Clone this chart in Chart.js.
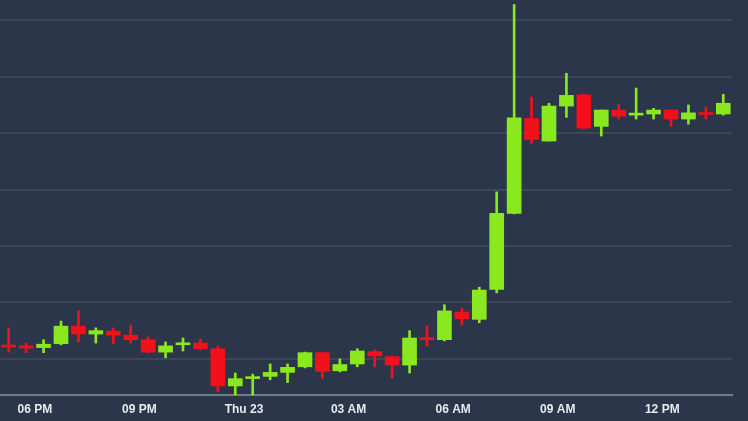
<!DOCTYPE html>
<html>
<head>
<meta charset="utf-8">
<script src="https://cdn.jsdelivr.net/npm/chart.js@4"></script>
<style>
  html, body { margin: 0; padding: 0; background: #2c364a; }
  #wrap { width: 748px; height: 421px; }
</style>
</head>
<body>
<div id="wrap"><canvas id="chart"></canvas></div>
<script>
// 30 minute candles, open time of each
var times = ['17:00', '17:30', '18:00', '18:30', '19:00', '19:30', '20:00', '20:30', '21:00', '21:30',
    '22:00', '22:30', '23:00', '23:30', '00:00', '00:30', '01:00', '01:30', '02:00', '02:30',
    '03:00', '03:30', '04:00', '04:30', '05:00', '05:30', '06:00', '06:30', '07:00', '07:30',
    '08:00', '08:30', '09:00', '09:30', '10:00', '10:30', '11:00', '11:30', '12:00', '12:30',
    '13:00', '13:30'];

var opens = [7823, 7823, 7820, 7827, 7858, 7844, 7849, 7842, 7834, 7812,
    7825, 7828, 7818, 7752, 7765, 7769, 7776, 7786, 7811, 7779,
    7791, 7813, 7804, 7789, 7835, 7834, 7883, 7870, 7923, 8058,
    8226, 8186, 8248, 8268, 8212, 8241, 8232, 8234, 8241, 8225,
    8236, 8234];
var highs = [7855, 7828, 7834, 7867, 7885, 7855, 7855, 7860, 7839, 7830,
    7837, 7835, 7823, 7775, 7773, 7791, 7791, 7812, 7812, 7800,
    7818, 7816, 7805, 7850, 7858, 7896, 7890, 7927, 8096, 8428,
    8264, 8253, 8306, 8269, 8241, 8251, 8280, 8244, 8241, 8250,
    8246, 8269];
var lows = [7812, 7811, 7811, 7825, 7830, 7828, 7827, 7828, 7811, 7802,
    7814, 7816, 7742, 7736, 7736, 7763, 7758, 7784, 7765, 7777,
    7786, 7786, 7766, 7775, 7823, 7832, 7860, 7864, 7917, 8057,
    8182, 8186, 8228, 8207, 8195, 8225, 8225, 8225, 8212, 8216,
    8225, 8232];
var closes = [7821, 7819, 7826, 7858, 7844, 7850, 7842, 7834, 7812, 7823,
    7828, 7818, 7752, 7765, 7768, 7776, 7785, 7811, 7778, 7790,
    7814, 7805, 7789, 7837, 7834, 7885, 7871, 7922, 8058, 8227,
    8189, 8248, 8267, 8209, 8241, 8230, 8234, 8241, 8225, 8236,
    8233, 8253];

// horizontal grid levels (no labels shown)
var gridLevels = [7800, 7900, 8000, 8100, 8200, 8300, 8400];

// hours after 18:00, one label every 3 hours
var tickHours = [0, 3, 6, 9, 12, 15, 18];
var tickLabels = ['06 PM', '09 PM', 'Thu 23', '03 AM', '06 AM', '09 AM', '12 PM'];

var GREEN = '#8ae81f';
var RED = '#f2101a';

function hoursFrom6pm(s) {
    var p = s.split(':');
    var t = parseInt(p[0], 10) + parseInt(p[1], 10) / 60 - 18;
    if (t < -2) t += 24; // past midnight
    return t + 0.25; // middle of the half hour
}

var bodies = [], wicks = [], colors = [];
for (var i = 0; i < times.length; i++) {
    var x = hoursFrom6pm(times[i]);
    bodies.push({x: x, y: [opens[i], closes[i]]});
    wicks.push({x: x, y: [lows[i], highs[i]]});
    colors.push(closes[i] >= opens[i] ? GREEN : RED);
}

var bgPlugin = {
    id: 'bg',
    beforeDraw: function (chart) {
        var c = chart.ctx;
        c.save();
        c.fillStyle = '#2c364a';
        c.fillRect(0, 0, chart.width, chart.height);
        c.restore();
    }
};

var ctx = document.getElementById('chart').getContext('2d');
var myChart = new Chart(ctx, {
    type: 'bar',
    data: {
        datasets: [{
            data: bodies,
            backgroundColor: colors,
            barThickness: 14,
            minBarLength: 2,
            grouped: false
        }, {
            data: wicks,
            backgroundColor: colors,
            barThickness: 2,
            grouped: false
        }]
    },
    options: {
        responsive: true,
        maintainAspectRatio: false,
        animation: false,
        layout: {padding: {left: 0, right: 16, top: 0, bottom: 0}},
        plugins: {
            legend: {display: false},
            tooltip: {enabled: false}
        },
        scales: {
            x: {
                type: 'linear',
                min: -1.0,
                max: 20.0,
                offset: false,
                grid: {display: false, drawTicks: false},
                border: {display: true, color: '#737b8c', width: 2},
                afterBuildTicks: function (scale) {
                    scale.ticks = tickHours.map(function (h) { return {value: h}; });
                },
                afterFit: function (scale) { scale.height = 26; },
                ticks: {
                    autoSkip: false,
                    maxRotation: 0,
                    padding: 7,
                    color: '#e6e9ee',
                    font: {family: '"Liberation Sans", Arial, sans-serif', size: 12, weight: 'bold'},
                    callback: function (v) {
                        var k = tickHours.indexOf(v);
                        return k >= 0 ? tickLabels[k] : '';
                    }
                }
            },
            y: {
                min: 7736,
                max: 8436,
                grid: {color: '#3b4659', lineWidth: 2, drawTicks: false},
                border: {display: false},
                afterBuildTicks: function (scale) {
                    scale.ticks = gridLevels.map(function (v) { return {value: v}; });
                },
                afterFit: function (scale) { scale.width = 0; },
                ticks: {display: false}
            }
        }
    },
    plugins: [bgPlugin]
});
</script>
</body>
</html>
